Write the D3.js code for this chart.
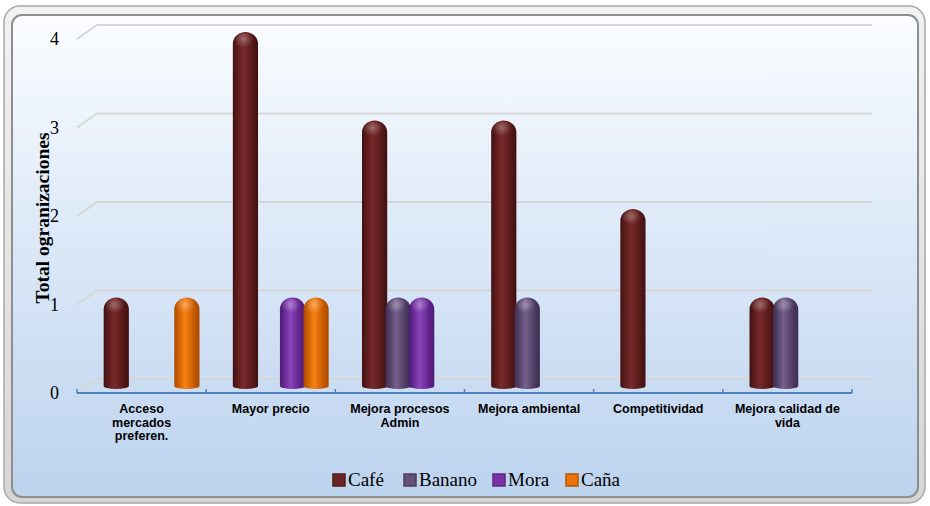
<!DOCTYPE html>
<html><head><meta charset="utf-8">
<script src="https://cdn.jsdelivr.net/npm/d3@7"></script>
<style>body{margin:0;background:#fff}svg{display:block}</style>
</head><body>
<script>
const categories = [["Acceso","mercados","preferen."],["Mayor precio"],["Mejora procesos","Admin"],["Mejora ambiental"],["Competitividad"],["Mejora calidad de","vida"]];
const series = ["Café","Banano","Mora","Caña"];
const cafe   = [1,4,3,3,2,1];
const banano = [0,0,1,1,0,1];
const mora   = [0,1,1,0,0,0];
const cana   = [1,1,0,0,0,0];
const values = [cafe, banano, mora, cana];
const yTicks = [0,1,2,3,4];
const colors = {"Café":["#3e1010","#762a2a","#561818"],"Banano":["#3f2e52","#75608c","#4c3a60"],"Mora":["#4e1a78","#8a45bb","#5e2288"],"Caña":["#a84a00","#f88214","#c45800"]};
const legendColors = ["#6a2424","#65507a","#7a32a6","#ee7308"];

const W=930,H=506;
const svg=d3.select("body").append("svg").attr("width",W).attr("height",H);
const defs=svg.append("defs");

const fg=defs.append("linearGradient").attr("id","frame").attr("x1",0).attr("y1",0).attr("x2",0).attr("y2",1);
fg.append("stop").attr("offset","0").attr("stop-color","#f2f2f2");
fg.append("stop").attr("offset","1").attr("stop-color","#d6d6d6");
const pg=defs.append("linearGradient").attr("id","panel").attr("x1",0).attr("y1",0).attr("x2",0).attr("y2",1);
pg.append("stop").attr("offset","0").attr("stop-color","#fbfdff");
pg.append("stop").attr("offset","0.45").attr("stop-color","#dde9f8");
pg.append("stop").attr("offset","1").attr("stop-color","#bcd3ee");

svg.append("rect").attr("x",4).attr("y",6).attr("width",921).attr("height",497).attr("rx",16)
  .attr("fill","url(#frame)").attr("stroke","#a8a8a8").attr("stroke-width",1.5);
svg.append("rect").attr("x",12).attr("y",15).attr("width",906).attr("height",482).attr("rx",10)
  .attr("fill","url(#panel)").attr("stroke","#8e8e8e").attr("stroke-width",2);

const x=d3.scaleBand().domain(d3.range(categories.length)).range([77,852]).padding(0);
const xs=d3.scaleBand().domain(series).range([17.5,x.bandwidth()-17.5]).padding(0);
const y=d3.scaleLinear().domain([0,4]).range([0,-354]);
const frontBase=393, backBase=379, midBase=386, dx=20;

const g=svg.append("g");
yTicks.forEach(v=>{
  g.append("path").attr("d",`M${77},${frontBase+y(v)}L${77+dx},${backBase+y(v)}L${852+dx},${backBase+y(v)}`)
   .attr("fill","none").attr("stroke","#d6d6d6").attr("stroke-width",2);
});
const ax=svg.append("g");
ax.append("line").attr("x1",77).attr("x2",852).attr("y1",frontBase).attr("y2",frontBase)
  .attr("stroke","#4f81bd").attr("stroke-width",2);
d3.range(categories.length+1).forEach(i=>{
  const xx = i<categories.length ? x(i) : x(i-1)+x.bandwidth();
  ax.append("line").attr("x1",xx).attr("x2",xx).attr("y1",frontBase).attr("y2",frontBase-4)
    .attr("stroke","#4f81bd").attr("stroke-width",1.5);
});
yTicks.forEach(v=>{
  svg.append("text").attr("x",59).attr("y",frontBase+y(v)+6).attr("text-anchor","end")
    .attr("font-family","Liberation Serif, DejaVu Serif, serif").attr("font-size",18).attr("fill","#000").text(v);
});
svg.append("text").attr("transform","translate(49,218) rotate(-90)").attr("text-anchor","middle")
  .attr("font-family","Liberation Serif, DejaVu Serif, serif").attr("font-weight","bold").attr("font-size",19.5)
  .text("Total ogranizaciones");

series.forEach((s,i)=>{
  const lg=defs.append("linearGradient").attr("id","bar"+i).attr("x1",0).attr("x2",1).attr("y1",0).attr("y2",0);
  const c=colors[s];
  lg.append("stop").attr("offset","0").attr("stop-color",c[0]);
  lg.append("stop").attr("offset","0.12").attr("stop-color",c[2]);
  lg.append("stop").attr("offset","0.42").attr("stop-color",c[1]);
  lg.append("stop").attr("offset","0.8").attr("stop-color",c[2]);
  lg.append("stop").attr("offset","1").attr("stop-color",c[0]);
  const rg=defs.append("radialGradient").attr("id","hl"+i).attr("cx",0.45).attr("cy",0.35).attr("r",0.5);
  rg.append("stop").attr("offset","0").attr("stop-color","#fff").attr("stop-opacity",0.3);
  rg.append("stop").attr("offset","1").attr("stop-color","#fff").attr("stop-opacity",0);
});

const bw=xs.bandwidth()*1.07;
const bars=svg.append("g");
categories.forEach((c,ci)=>{
  series.forEach((s,si)=>{
    const v=values[si][ci];
    if(!v) return;
    const cx=x(ci)+dx/2+xs(s)+xs.bandwidth()/2;
    const x0=cx-bw/2, x1=cx+bw/2, r=bw/2, ry=r*0.95, rb=3;
    const top=midBase+y(v);
    const d=`M${x0},${top+ry} A${r},${ry} 0 0 1 ${x1},${top+ry} L${x1},${midBase} A${r},${rb} 0 0 1 ${x0},${midBase} Z`;
    bars.append("path").attr("d",d).attr("fill",`url(#bar${si})`);
    bars.append("ellipse").attr("cx",cx-1).attr("cy",top+ry*0.8).attr("rx",r*0.8).attr("ry",ry*0.7)
      .attr("fill",`url(#hl${si})`);
  });
});

categories.forEach((lines,ci)=>{
  const t=svg.append("text").attr("x",x(ci)+x.bandwidth()/2).attr("y",413).attr("text-anchor","middle")
    .attr("font-family","Liberation Sans, Arial, sans-serif").attr("font-weight","bold").attr("font-size",12.5);
  lines.forEach((l,li)=>t.append("tspan").attr("x",x(ci)+x.bandwidth()/2).attr("dy",li?13.5:0).text(l));
});

const legX=[333,404,493,566];
series.forEach((s,i)=>{
  svg.append("rect").attr("x",legX[i]).attr("y",474).attr("width",12).attr("height",12)
    .attr("fill",legendColors[i]).attr("stroke",d3.color(legendColors[i]).darker(0.8)).attr("stroke-width",1.5);
  svg.append("text").attr("x",legX[i]+15).attr("y",486).attr("font-family","Liberation Serif, DejaVu Serif, serif")
    .attr("font-size",19).text(s);
});
</script>
</body></html>
